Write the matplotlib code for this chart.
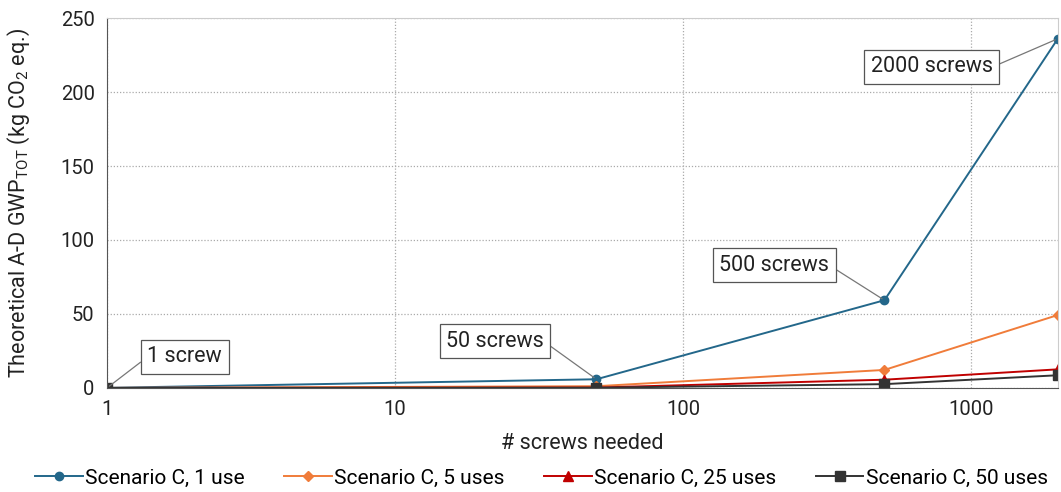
import numpy as np
import matplotlib
matplotlib.use("Agg")
import matplotlib.pyplot as plt
from matplotlib.ticker import FixedLocator, NullLocator, FixedFormatter

plt.rcParams['font.family'] = ['Roboto', 'DejaVu Sans']
plt.rcParams['mathtext.fontset'] = 'custom'
plt.rcParams['mathtext.rm'] = 'Roboto'

screws = [1, 50, 500, 2000]
use1 = [0.12, 5.9, 59.3, 236.0]
use5 = [0.05, 1.2, 12.2, 49.3]
use25 = [0.03, 0.3, 5.6, 12.6]
use50 = [0.02, 0.2, 2.6, 8.6]

labels = ["Scenario C, 1 use", "Scenario C, 5 uses", "Scenario C, 25 uses", "Scenario C, 50 uses"]
colors = ["#23678a", "#f07c3a", "#c00000", "#333333"]
markers = ["o", "D", "^", "s"]
msizes = [6, 5, 7, 7]

annot_text = ["1 screw", "50 screws", "500 screws", "2000 screws"]

fig = plt.figure(figsize=(10.61, 4.92), dpi=100)
ax = fig.add_axes([0.101, 0.2114, 0.896, 0.752])

for vals, lab, c, m, ms in zip([use1, use5, use25, use50], labels, colors, markers, msizes):
    ax.plot(screws, vals, color=c, marker=m, markersize=ms, linewidth=1.4, label=lab)

ax.set_xscale("log")
ax.set_xlim(1, 2000)
ax.set_ylim(0, 250)
ax.xaxis.set_major_locator(FixedLocator([1, 10, 100, 1000]))
ax.xaxis.set_major_formatter(FixedFormatter(["1", "10", "100", "1000"]))
ax.xaxis.set_minor_locator(NullLocator())
ax.set_yticks([0, 50, 100, 150, 200, 250])
ax.tick_params(length=0, labelsize=14.5, colors="#222222", pad=9)
ax.grid(True, which="major", linestyle=(0, (1, 1.5)), color="#aaaaaa", linewidth=0.9)

for s in ["left", "bottom"]:
    ax.spines[s].set_color("#555555")
for s in ["top", "right"]:
    ax.spines[s].set_color("#cccccc")

ax.set_xlabel("# screws needed", fontsize=15.5, color="#222222", labelpad=10)
ax.set_ylabel(r"Theoretical A-D GWP$_{\mathrm{TOT}}$ (kg CO$_{\mathrm{2}}$ eq.)", fontsize=15.5, color="#222222")
ax.yaxis.set_label_coords(-0.079, 0.5)

# annotation boxes: text position in data coords, leader line to the 1-use point
box_pos = [(1.38, 21), (22.2, 31.5), (207, 83), (730, 217)]
box_ha = ["left", "center", "center", "center"]
relpos = [(0, 0.5), (1, 0.5), (1, 0.5), (1, 0.5)]
bbox = dict(boxstyle="square,pad=0.3", fc="white", ec="#555555", lw=0.9)
for txt, x, y, pos, ha, rp in zip(annot_text, screws, use1, box_pos, box_ha, relpos):
    ax.annotate(txt, xy=(x, y), xytext=pos, textcoords="data", ha=ha, va="center",
                fontsize=15.5, color="#222222", bbox=bbox,
                arrowprops=dict(arrowstyle="-", color="#777777", lw=0.9,
                                shrinkA=0, shrinkB=2, relpos=rp))

fig.legend(loc="center", bbox_to_anchor=(0.51, 0.028), ncol=4, frameon=False,
           fontsize=15, handlelength=2.3, handletextpad=0.1, columnspacing=1.9)

fig.savefig("out.png", dpi=100)
